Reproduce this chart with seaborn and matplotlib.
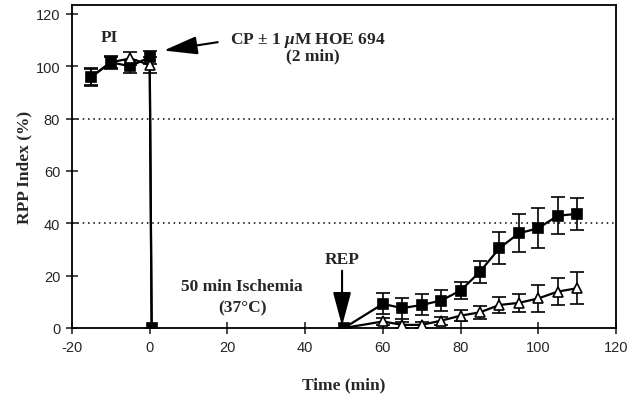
import matplotlib
matplotlib.use("Agg")
import matplotlib.pyplot as plt
import seaborn as sns
import pandas as pd

# ---- data ----
pre_time = [-15, -10, -5, 0, 0.5]
sq_pre = [96, 101.5, 100, 103.5, 0]
sq_pre_err = [3.5, 2.5, 2.5, 2.5, 0]
tri_pre = [96, 101.5, 103, 100.5, 0]
tri_pre_err = [3, 2, 2.5, 3, 0]

post_time = [50, 60, 65, 70, 75, 80, 85, 90, 95, 100, 105, 110]
sq_post = [0, 9.2, 7.6, 8.8, 10.5, 14.3, 21.5, 30.5, 36.2, 38.1, 42.9, 43.6]
sq_post_err = [0, 4, 4, 4, 4, 3.2, 4.2, 6, 7.3, 7.6, 7, 6]
tri_post = [0, 2.5, 1.2, 1.2, 2.8, 4.7, 6.0, 8.8, 9.6, 11.3, 13.9, 15.2]
tri_post_err = [0, 1.5, 1.2, 1.2, 1.5, 2, 2.5, 3.2, 3.4, 5, 5.2, 6.2]

x_ticks = [-20, 0, 20, 40, 60, 80, 100, 120]
y_ticks = [0, 20, 40, 60, 80, 100, 120]
ref_lines = [80, 40]

sns.set_style("white")
plt.rcParams['font.family'] = ['Liberation Sans', 'DejaVu Sans']
plt.rcParams['mathtext.fontset'] = 'custom'
plt.rcParams['mathtext.it'] = 'Liberation Serif:bold:italic'
plt.rcParams['mathtext.rm'] = 'Liberation Serif:bold'

fig = plt.figure(figsize=(6.27, 4.02), dpi=100)
ax = fig.add_axes([72/627, 1-329/402, 544/627, 323/402])

serif = dict(family=['Liberation Serif', 'DejaVu Serif'], weight='bold')

for yl in ref_lines:
    ax.axhline(yl, color='k', ls=(0, (1, 2.5)), lw=1.1, zorder=1)

def series(t, y, e, marker, face, z, mev=None):
    df = pd.DataFrame({'t': t, 'y': y})
    ax.errorbar(t, y, yerr=e, fmt='none', ecolor='k', elinewidth=1.2,
                capsize=5, capthick=1.2, zorder=z-0.5)
    sns.lineplot(data=df, x='t', y='y', ax=ax, color='k', lw=1.6,
                 marker=marker, markersize=7.5, markerfacecolor=face,
                 markeredgecolor='k', markeredgewidth=1.2,
                 markevery=mev, zorder=z, sort=False, estimator=None)

series(pre_time, sq_pre, sq_pre_err, 's', 'k', 3)
series(pre_time, tri_pre, tri_pre_err, '^', 'white', 4, mev=[2, 3])
series(post_time, tri_post, tri_post_err, '^', 'white', 3, mev=list(range(1, 12)))
series(post_time, sq_post, sq_post_err, 's', 'k', 4)

ax.set_xlim(-20, 120)
ax.set_ylim(0, 123.4)
ax.set_xticks(x_ticks)
ax.set_yticks(y_ticks)
ax.set_xticklabels([str(v) for v in x_ticks])
ax.set_yticklabels([str(v) for v in y_ticks])
ax.tick_params(direction='inout', length=9, width=1.2, labelsize=10.5,
               bottom=True, left=True, pad=4)
for s in ax.spines.values():
    s.set_color('k')
    s.set_linewidth(1.3)

ax.set_xlabel('Time (min)', fontsize=12.5, labelpad=16, **serif)
ax.set_ylabel('RPP Index (%)', fontsize=12.5, labelpad=2, **serif)

ax.text(-10.3, 111, 'PI', ha='center', va='center', fontsize=12.5, **serif)
ax.text(40.6, 110.2, 'CP ± 1 $\\mathit{\\mu}$M HOE 694', ha='center', va='center',
        fontsize=12.5, **serif)
ax.text(42, 104, '(2 min)', ha='center', va='center', fontsize=12.5, **serif)
ax.text(23.6, 16.2, '50 min Ischemia', ha='center', va='center', fontsize=12.5, **serif)
ax.text(24, 8, '(37°C)', ha='center', va='center', fontsize=12.5, **serif)
ax.text(49.4, 26.4, 'REP', ha='center', va='center', fontsize=12.5, **serif)

ap = dict(arrowstyle='-|>,head_length=1.3,head_width=0.35', color='k',
          lw=1.5, mutation_scale=16, shrinkA=0, shrinkB=0)
ax.annotate('', xy=(3.6, 106), xytext=(17.5, 109.2), arrowprops=ap)
ax.annotate('', xy=(49.5, 0.8), xytext=(49.5, 21.9), arrowprops=ap)

fig.savefig('out.png', dpi=100)
